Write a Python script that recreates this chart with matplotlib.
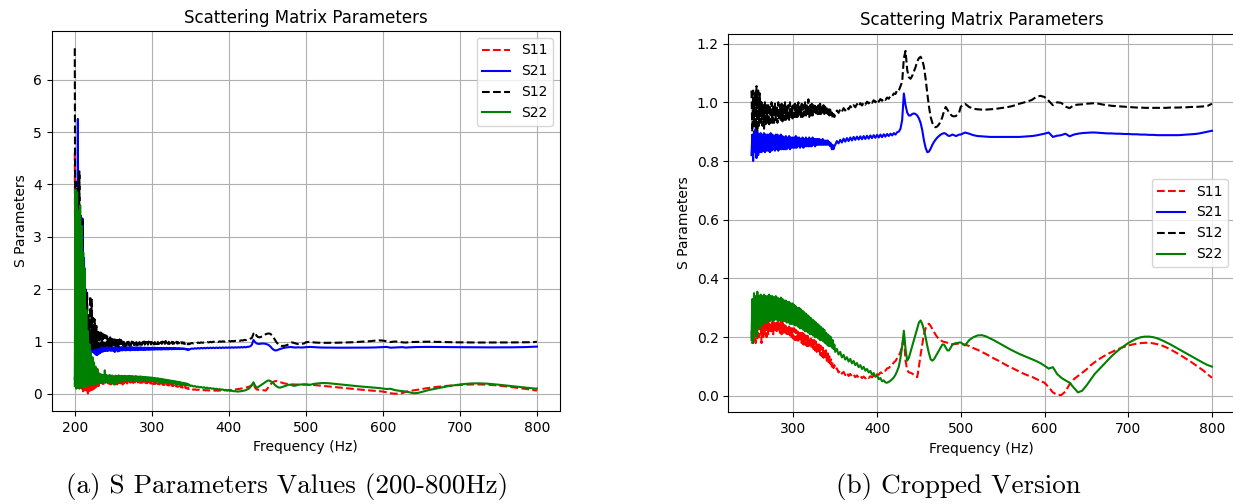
import numpy as np
import matplotlib.pyplot as plt
plt.switch_backend("Agg")

# frequency grid: 1 Hz steps in the noisy band, then 2 Hz, then 5 Hz
freq = np.concatenate([np.arange(200, 350, 1), np.arange(350, 500, 2), np.arange(500, 801, 5)])

s11 = [
    # 200-349 Hz
    4.60, 0.20, 3.50, 0.15, 3.40, 0.20, 3.60, 0.10, 3.20, 0.10,
    2.40, 0.05, 1.80, 0.05, 1.20, 0.02, 0.90, 0.01, 0.60, 0.02,
    0.45, 0.03, 0.40, 0.08, 0.35, 0.10, 0.30, 0.12, 0.32, 0.15,
    0.50, 0.15, 0.30, 0.16, 0.28, 0.17, 0.28, 0.17, 0.27, 0.18,
    0.28, 0.18, 0.27, 0.18, 0.26, 0.19, 0.26, 0.18, 0.25, 0.19,
    0.22, 0.18, 0.25, 0.19, 0.24, 0.18, 0.25, 0.19, 0.24, 0.20,
    0.21, 0.25, 0.18, 0.24, 0.20, 0.25, 0.21, 0.255, 0.20, 0.25,
    0.21, 0.255, 0.215, 0.25, 0.22, 0.26, 0.21, 0.25, 0.22, 0.255,
    0.215, 0.255, 0.22, 0.25, 0.215, 0.26, 0.21, 0.25, 0.215, 0.245,
    0.21, 0.245, 0.205, 0.24, 0.205, 0.24, 0.20, 0.235, 0.20, 0.23,
    0.195, 0.23, 0.19, 0.225, 0.19, 0.22, 0.185, 0.22, 0.185, 0.215,
    0.18, 0.215, 0.175, 0.21, 0.175, 0.205, 0.17, 0.205, 0.17, 0.20,
    0.165, 0.20, 0.16, 0.195, 0.16, 0.19, 0.155, 0.185, 0.15, 0.18,
    0.145, 0.175, 0.14, 0.17, 0.135, 0.165, 0.13, 0.16, 0.125, 0.155,
    0.12, 0.145, 0.115, 0.135, 0.11, 0.125, 0.10, 0.115, 0.095, 0.105,
    # 350-498 Hz
    0.090, 0.094, 0.080, 0.087, 0.076, 0.082, 0.071, 0.079, 0.068, 0.075,
    0.066, 0.072, 0.064, 0.070, 0.062, 0.068, 0.061, 0.066, 0.060, 0.066,
    0.061, 0.067, 0.063, 0.070, 0.067, 0.074, 0.072, 0.080, 0.078, 0.086,
    0.086, 0.094, 0.095, 0.102, 0.106, 0.114, 0.119, 0.128, 0.136, 0.150,
    0.170, 0.205, 0.120, 0.088, 0.080, 0.079, 0.076, 0.072, 0.066, 0.064,
    0.100, 0.140, 0.175, 0.210, 0.230, 0.242, 0.246, 0.238, 0.228, 0.218,
    0.208, 0.200, 0.194, 0.190, 0.186, 0.184, 0.183, 0.181, 0.179, 0.178,
    0.176, 0.176, 0.177, 0.178, 0.178,
    # 500-800 Hz
    0.177, 0.175, 0.170, 0.163, 0.157, 0.150, 0.143, 0.135, 0.127, 0.120,
    0.112, 0.104, 0.097, 0.090, 0.083, 0.076, 0.070, 0.065, 0.058, 0.051,
    0.045, 0.030, 0.012, 0.004, 0.003, 0.015, 0.040, 0.057, 0.068, 0.079,
    0.090, 0.104, 0.115, 0.125, 0.134, 0.142, 0.149, 0.156, 0.162, 0.167,
    0.172, 0.175, 0.178, 0.180, 0.181, 0.181, 0.179, 0.176, 0.172, 0.166,
    0.159, 0.151, 0.143, 0.134, 0.125, 0.116, 0.106, 0.096, 0.086, 0.073,
    0.062,
]

s21 = [
    # 200-349 Hz
    0.30, 0.15, 2.50, 0.40, 5.25, 0.45, 3.00, 0.50, 2.80, 0.60,
    3.35, 0.70, 2.60, 0.75, 2.00, 0.80, 1.40, 0.78, 1.00, 0.80,
    0.92, 0.79, 0.91, 0.80, 0.90, 0.78, 0.91, 0.75, 0.90, 0.74,
    0.89, 0.76, 0.90, 0.78, 0.89, 0.80, 0.90, 0.81, 0.89, 0.82,
    0.90, 0.82, 0.89, 0.82, 0.90, 0.83, 0.89, 0.82, 0.90, 0.83,
    0.82, 0.89, 0.80, 0.90, 0.83, 0.91, 0.81, 0.90, 0.82, 0.89,
    0.83, 0.895, 0.83, 0.89, 0.835, 0.895, 0.83, 0.89, 0.835, 0.89,
    0.835, 0.89, 0.83, 0.895, 0.835, 0.89, 0.84, 0.885, 0.835, 0.89,
    0.84, 0.89, 0.835, 0.885, 0.84, 0.89, 0.84, 0.885, 0.84, 0.88,
    0.84, 0.885, 0.84, 0.88, 0.845, 0.885, 0.84, 0.88, 0.845, 0.88,
    0.845, 0.88, 0.845, 0.885, 0.845, 0.88, 0.85, 0.88, 0.845, 0.875,
    0.85, 0.88, 0.845, 0.875, 0.85, 0.88, 0.85, 0.875, 0.85, 0.88,
    0.85, 0.875, 0.85, 0.88, 0.855, 0.875, 0.85, 0.875, 0.855, 0.875,
    0.855, 0.875, 0.855, 0.87, 0.855, 0.875, 0.855, 0.87, 0.855, 0.87,
    0.855, 0.87, 0.855, 0.865, 0.85, 0.86, 0.84, 0.855, 0.84, 0.85,
    # 350-498 Hz
    0.855, 0.868, 0.860, 0.872, 0.863, 0.876, 0.866, 0.878, 0.868, 0.880,
    0.870, 0.882, 0.872, 0.883, 0.873, 0.884, 0.874, 0.885, 0.875, 0.886,
    0.876, 0.887, 0.878, 0.888, 0.879, 0.889, 0.880, 0.890, 0.881, 0.891,
    0.883, 0.892, 0.885, 0.893, 0.887, 0.895, 0.890, 0.898, 0.900, 0.910,
    0.940, 1.030, 0.990, 0.965, 0.955, 0.955, 0.960, 0.962, 0.960, 0.955,
    0.945, 0.930, 0.905, 0.870, 0.845, 0.830, 0.832, 0.842, 0.855, 0.865,
    0.873, 0.880, 0.885, 0.890, 0.893, 0.895, 0.893, 0.888, 0.885, 0.887,
    0.890, 0.888, 0.885, 0.887, 0.890,
    # 500-800 Hz
    0.890, 0.897, 0.893, 0.888, 0.885, 0.884, 0.883, 0.882, 0.882, 0.882,
    0.882, 0.882, 0.882, 0.882, 0.882, 0.883, 0.884, 0.885, 0.887, 0.890,
    0.893, 0.897, 0.882, 0.886, 0.888, 0.893, 0.884, 0.890, 0.893, 0.895,
    0.896, 0.897, 0.897, 0.896, 0.895, 0.894, 0.894, 0.893, 0.893, 0.892,
    0.892, 0.891, 0.891, 0.890, 0.890, 0.889, 0.889, 0.888, 0.888, 0.888,
    0.888, 0.888, 0.888, 0.889, 0.890, 0.891, 0.892, 0.894, 0.897, 0.900,
    0.903,
]

s12 = [
    # 200-349 Hz
    6.60, 0.45, 4.05, 0.35, 3.95, 0.50, 4.25, 0.60, 3.40, 1.90,
    3.30, 0.80, 1.95, 0.85, 1.60, 0.86, 1.93, 0.87, 1.50, 0.86,
    1.87, 0.87, 1.80, 0.86, 1.45, 0.87, 1.42, 0.88, 1.30, 0.88,
    1.23, 0.89, 1.20, 0.90, 1.17, 0.90, 1.15, 0.91, 1.13, 0.91,
    1.12, 0.92, 1.10, 0.92, 1.09, 0.92, 1.08, 0.91, 1.07, 0.92,
    1.04, 0.90, 1.04, 0.92, 1.03, 0.91, 1.055, 0.90, 1.04, 0.92,
    1.03, 0.93, 1.00, 0.92, 0.99, 0.91, 1.00, 0.92, 0.99, 0.93,
    0.995, 0.92, 0.99, 0.93, 1.00, 0.93, 0.99, 0.93, 0.995, 0.94,
    0.99, 0.93, 1.00, 0.94, 0.99, 0.94, 0.995, 0.935, 0.99, 0.94,
    1.00, 0.94, 0.99, 0.945, 0.99, 0.94, 1.00, 0.945, 0.99, 0.945,
    0.99, 0.95, 0.995, 0.945, 0.99, 0.95, 1.00, 0.95, 0.99, 0.95,
    0.995, 0.95, 0.99, 0.955, 1.00, 0.95, 0.99, 0.955, 1.01, 0.95,
    0.99, 0.955, 0.995, 0.955, 0.99, 0.96, 0.995, 0.955, 0.99, 0.96,
    0.99, 0.96, 0.995, 0.96, 0.99, 0.965, 0.99, 0.96, 0.985, 0.965,
    0.985, 0.96, 0.98, 0.955, 0.975, 0.95, 0.965, 0.945, 0.96, 0.95,
    # 350-498 Hz
    0.960, 0.972, 0.964, 0.976, 0.968, 0.980, 0.972, 0.983, 0.976, 0.987,
    0.980, 0.990, 0.983, 0.994, 0.986, 0.997, 0.989, 0.999, 0.992, 1.002,
    0.996, 1.004, 0.998, 1.007, 1.000, 1.009, 1.002, 1.011, 1.005, 1.013,
    1.008, 1.016, 1.012, 1.022, 1.020, 1.030, 1.028, 1.042, 1.040, 1.055,
    1.070, 1.150, 1.175, 1.110, 1.085, 1.080, 1.090, 1.105, 1.120, 1.140,
    1.150, 1.155, 1.145, 1.120, 1.080, 1.030, 0.985, 0.950, 0.930, 0.918,
    0.915, 0.918, 0.925, 0.935, 0.950, 0.970, 0.984, 0.975, 0.965, 0.958,
    0.953, 0.952, 0.953, 0.958, 0.965,
    # 500-800 Hz
    0.985, 0.995, 0.984, 0.978, 0.976, 0.975, 0.975, 0.976, 0.977, 0.979,
    0.981, 0.983, 0.986, 0.990, 0.995, 0.999, 1.003, 1.008, 1.018, 1.022,
    1.018, 1.005, 0.990, 1.000, 0.998, 0.985, 0.980, 0.990, 0.992, 0.993,
    0.995, 0.996, 0.997, 0.995, 0.992, 0.990, 0.988, 0.987, 0.986, 0.985,
    0.984, 0.983, 0.982, 0.982, 0.981, 0.981, 0.981, 0.981, 0.981, 0.981,
    0.982, 0.982, 0.982, 0.983, 0.983, 0.984, 0.984, 0.985, 0.986, 0.988,
    0.995,
]

s22 = [
    # 200-349 Hz
    0.15, 3.90, 0.10, 3.85, 0.12, 3.50, 0.10, 3.60, 0.15, 3.20,
    0.12, 2.70, 0.15, 2.40, 0.14, 1.60, 0.15, 1.20, 0.17, 0.95,
    0.16, 0.80, 0.18, 0.70, 0.17, 0.60, 0.18, 0.52, 0.19, 0.48,
    0.20, 0.40, 0.21, 0.38, 0.21, 0.37, 0.22, 0.36, 0.22, 0.45,
    0.22, 0.36, 0.23, 0.35, 0.23, 0.36, 0.22, 0.35, 0.23, 0.35,
    0.19, 0.33, 0.18, 0.35, 0.22, 0.34, 0.20, 0.355, 0.24, 0.34,
    0.23, 0.345, 0.24, 0.34, 0.245, 0.345, 0.25, 0.34, 0.25, 0.34,
    0.255, 0.345, 0.255, 0.34, 0.26, 0.34, 0.255, 0.335, 0.26, 0.34,
    0.26, 0.335, 0.255, 0.33, 0.26, 0.335, 0.255, 0.33, 0.255, 0.325,
    0.255, 0.325, 0.25, 0.32, 0.25, 0.32, 0.245, 0.315, 0.245, 0.315,
    0.245, 0.31, 0.24, 0.305, 0.24, 0.30, 0.235, 0.30, 0.23, 0.295,
    0.23, 0.29, 0.225, 0.285, 0.22, 0.28, 0.22, 0.275, 0.215, 0.27,
    0.21, 0.265, 0.21, 0.26, 0.205, 0.255, 0.20, 0.25, 0.20, 0.245,
    0.195, 0.24, 0.19, 0.235, 0.19, 0.23, 0.185, 0.225, 0.18, 0.215,
    0.175, 0.21, 0.17, 0.205, 0.17, 0.20, 0.165, 0.19, 0.16, 0.175,
    # 350-498 Hz
    0.150, 0.160, 0.141, 0.150, 0.131, 0.140, 0.124, 0.132, 0.117, 0.126,
    0.111, 0.119, 0.105, 0.112, 0.098, 0.105, 0.092, 0.099, 0.086, 0.092,
    0.080, 0.085, 0.072, 0.078, 0.065, 0.070, 0.057, 0.061, 0.050, 0.053,
    0.046, 0.045, 0.048, 0.052, 0.057, 0.063, 0.072, 0.085, 0.100, 0.130,
    0.170, 0.222, 0.160, 0.120, 0.130, 0.150, 0.170, 0.190, 0.210, 0.230,
    0.250, 0.257, 0.245, 0.225, 0.200, 0.170, 0.145, 0.125, 0.120, 0.125,
    0.135, 0.145, 0.155, 0.165, 0.175, 0.175, 0.165, 0.155, 0.155, 0.165,
    0.175, 0.178, 0.180, 0.180, 0.182,
    # 500-800 Hz
    0.182, 0.172, 0.190, 0.200, 0.206, 0.207, 0.203, 0.196, 0.189, 0.181,
    0.173, 0.165, 0.157, 0.150, 0.143, 0.137, 0.131, 0.125, 0.119, 0.112,
    0.103, 0.093, 0.098, 0.075, 0.062, 0.053, 0.045, 0.028, 0.012, 0.018,
    0.035, 0.055, 0.075, 0.090, 0.105, 0.120, 0.135, 0.148, 0.160, 0.170,
    0.180, 0.188, 0.195, 0.200, 0.202, 0.202, 0.200, 0.196, 0.190, 0.183,
    0.176, 0.168, 0.160, 0.152, 0.144, 0.136, 0.128, 0.120, 0.112, 0.105,
    0.100,
]

series = [("S11", s11, "red", "--"), ("S21", s21, "blue", "-"),
          ("S12", s12, "black", "--"), ("S22", s22, "green", "-")]

captions = ["(a) S Parameters Values (200-800Hz)", "(b) Cropped Version"]
crop_start = 250

fig = plt.figure(figsize=(12.33, 5.04), dpi=100)
ax_full = fig.add_axes([0.0419, 0.1845, 0.4123, 0.754])
ax_crop = fig.add_axes([0.5908, 0.182, 0.4108, 0.7512])

mask = freq >= crop_start
for name, values, color, style in series:
    values = np.array(values)
    ax_full.plot(freq, values, color=color, linestyle=style, lw=1.5, label=name)
    ax_crop.plot(freq[mask], values[mask], color=color, linestyle=style, lw=1.5, label=name)

for ax in (ax_full, ax_crop):
    ax.set_title("Scattering Matrix Parameters", fontsize=12)
    ax.set_xlabel("Frequency (Hz)", fontsize=10)
    ax.set_ylabel("S Parameters", fontsize=10)
    ax.grid(True)

ax_full.legend(loc="upper right")
ax_crop.legend(loc="center right")

fig.text(0.2325, 0.034, captions[0], family="cmr10", fontsize=19.5, ha="center", va="center")
fig.text(0.777, 0.034, captions[1], family="cmr10", fontsize=19.5, ha="center", va="center")

fig.savefig("out.png", dpi=100)
plt.close()
